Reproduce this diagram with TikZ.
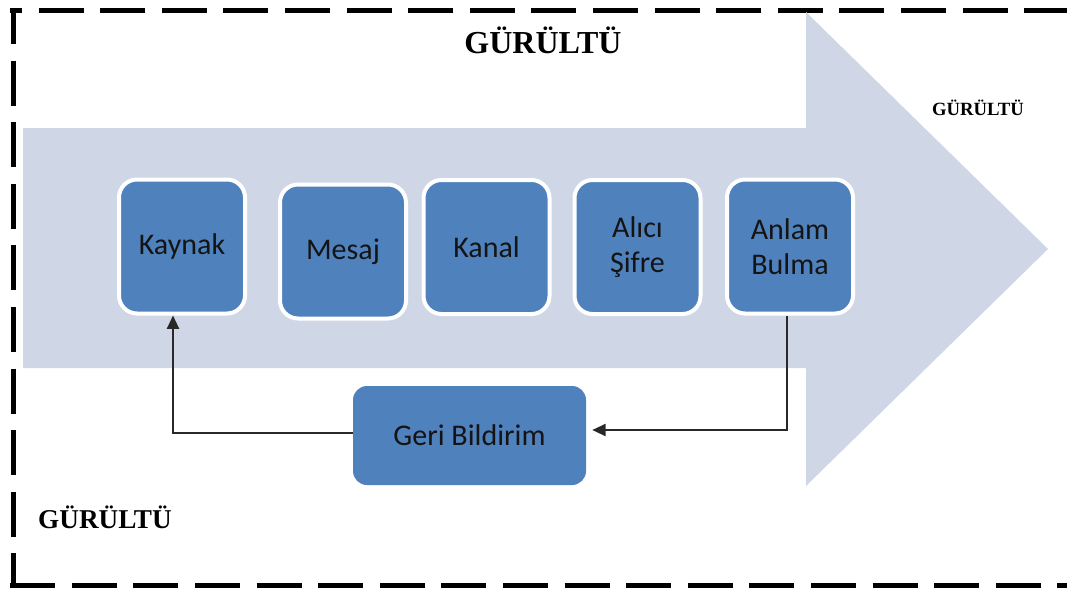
\documentclass[tikz,border=0pt]{standalone}
\usepackage{fontspec}
\setmainfont{Liberation Serif}
\newfontfamily\boxfont{Carlito}
\usetikzlibrary{arrows.meta}
\definecolor{arrowfill}{RGB}{207,215,230}
\definecolor{boxblue}{RGB}{79,129,189}
\definecolor{txtdark}{RGB}{20,20,20}
\definecolor{linegray}{RGB}{40,40,40}
\tikzset{
  stepbox/.style={draw=white, line width=3pt, fill=boxblue, rounded corners=13.5pt,
    minimum width=94.5pt, minimum height=100.5pt, inner sep=0pt, align=center,
    font=\boxfont\fontsize{22.5}{26}\selectfont, text=txtdark},
  fbbox/.style={fill=boxblue, rounded corners=10.5pt,
    minimum width=174.75pt, minimum height=74.25pt, inner sep=0pt, align=center,
    font=\boxfont\fontsize{22.5}{26}\selectfont, text=txtdark},
  noise/.style={font=\bfseries, text=black, anchor=base, inner sep=0pt},
  border/.style={line width=3.75pt, black, dash pattern=on 33.75pt off 12.45pt},
  conn/.style={line width=1.5pt, draw=linegray, -{Triangle[length=10pt,width=9pt]}},
}
\begin{document}
\begin{tikzpicture}[x=0.75pt,y=-0.75pt]
\useasboundingbox (0,0) rectangle (1067,589);
% dashed frame
\draw[border, dash phase=8.25pt] (13,10) -- (13,585);
\draw[border, dash phase=24.75pt] (10,10) -- (1080,10);
\draw[border, dash phase=46pt] (10,585) -- (1080,585);
% big arrow
\fill[arrowfill] (23,128) -- (806,128) -- (806,12) -- (1048,249) -- (806,486) -- (806,368) -- (23,368) -- cycle;
% noise labels
\node[noise, font=\bfseries\fontsize{24}{28}\selectfont] (n1) at (543,53) {GÜRÜLTÜ};
\node[noise, font=\bfseries\fontsize{14}{16}\selectfont] (n2) at (978,115) {GÜRÜLTÜ};
\node[noise, font=\bfseries\fontsize{20.4}{24}\selectfont] (n3) at (105,528) {GÜRÜLTÜ};
% boxes
\node[stepbox] (kaynak) at (182,246.5) {Kaynak};
\node[stepbox] (mesaj) at (343,251.5) {Mesaj};
\node[stepbox] (kanal) at (486.5,247) {Kanal};
\node[stepbox] (alici) at (637.5,247) {Alıcı\\Şifre};
\node[stepbox] (anlam) at (790,246.5) {Anlam\\Bulma};
\node[fbbox] (geri) at (469.5,435.5) {Geri Bildirim};
% connectors
\coordinate (c1) at (787,430);
\coordinate (c2) at (173,433);
\draw[conn, shorten >=4.5pt] (anlam.south -| c1) -- (c1) -- (geri.east |- c1);
\draw[conn] (geri.west |- c2) -- (c2) -- (kaynak.south -| c2);
\end{tikzpicture}
\end{document}
